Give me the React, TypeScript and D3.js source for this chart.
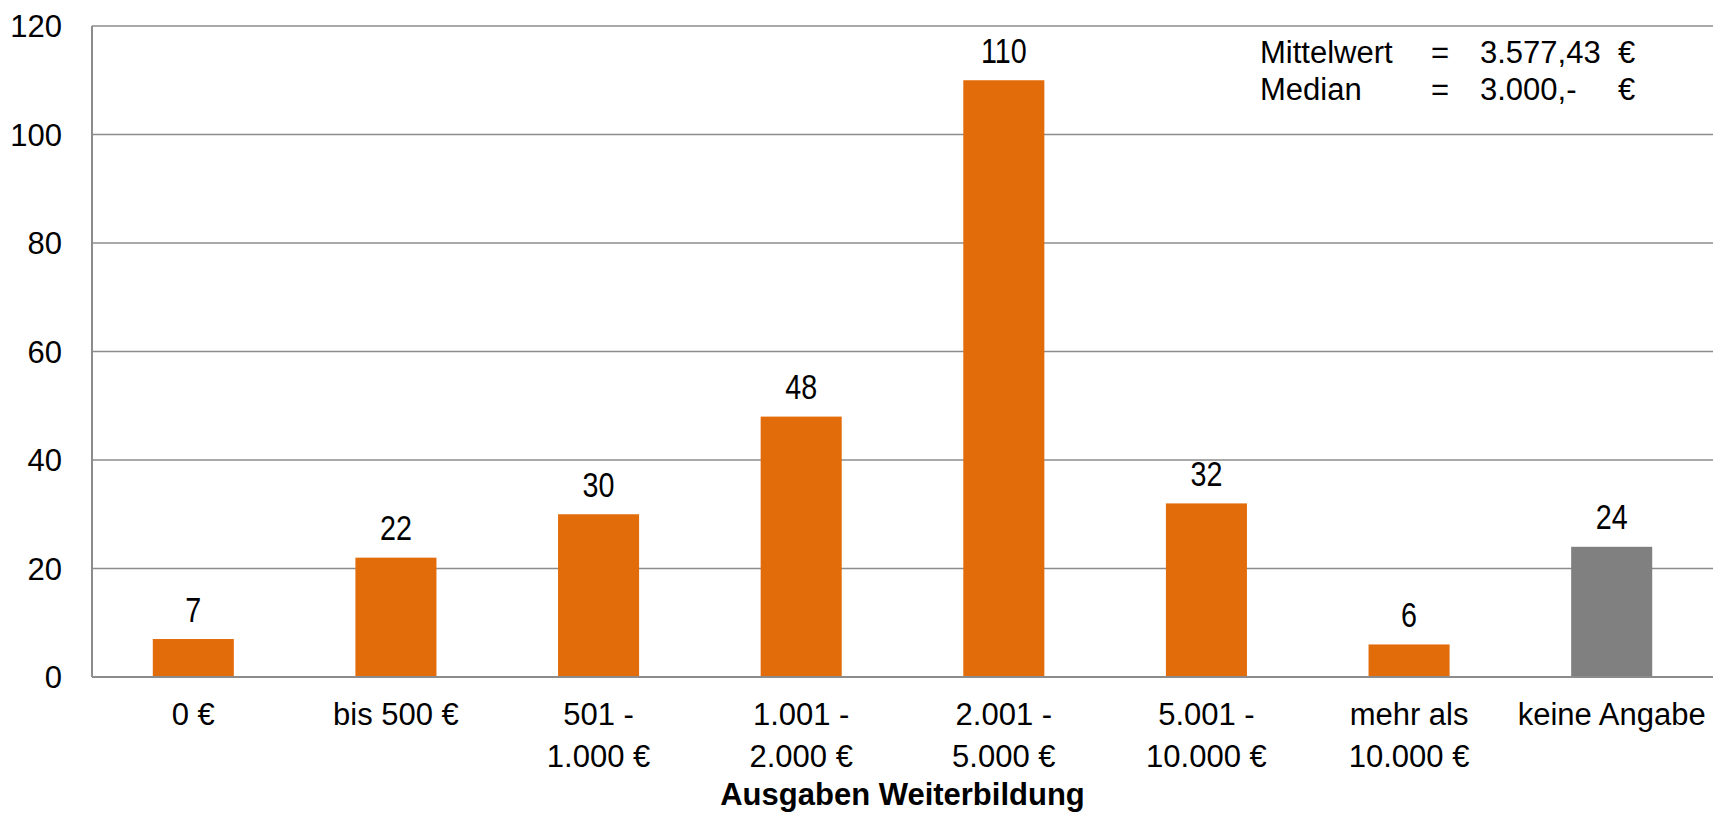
import React from 'react'
import * as d3 from 'd3'

// chart values
const categories = [
  ['0 €'],
  ['bis 500 €'],
  ['501 -', '1.000 €'],
  ['1.001 -', '2.000 €'],
  ['2.001 -', '5.000 €'],
  ['5.001 -', '10.000 €'],
  ['mehr als', '10.000 €'],
  ['keine Angabe']
]
const counts = [7, 22, 30, 48, 110, 32, 6, 24]
const barColors = ['#E36C0A', '#E36C0A', '#E36C0A', '#E36C0A', '#E36C0A', '#E36C0A', '#E36C0A', '#808080']
const yTicks = [0, 20, 40, 60, 80, 100, 120]
const statNames = ['Mittelwert', 'Median']
const statValues = ['3.577,43', '3.000,-']
const axisTitle = 'Ausgaben Weiterbildung'

const font = '"Liberation Sans", Arial, sans-serif'

const App = () => {
  const width = 1713
  const height = 813
  const margin = { top: 26, right: 0, bottom: 136, left: 92 }
  const plotRight = width - margin.right
  const plotBottom = height - margin.bottom

  const keys = categories.map((c, i) => String(i))

  //D3 mathy bits
  const x = d3
    .scaleBand()
    .domain(keys)
    .range([margin.left, plotRight])
    .paddingInner(0.6)
    .paddingOuter(0.3)
  const y = d3.scaleLinear().domain([0, 120]).range([plotBottom, margin.top])

  const gridStyle = { stroke: '#8c8c8c', strokeWidth: 1.5 }
  const axisStyle = { stroke: '#8c8c8c', strokeWidth: 2 }

  return (
    <svg
      width={width}
      height={height}
      style={{ position: 'absolute', left: 0, top: 0, background: '#fff' }}
    >
      {/* gridlines */}
      {yTicks.map((t) =>
        t === 0 ? null : (
          <line key={t} x1={margin.left} x2={plotRight} y1={y(t)} y2={y(t)} style={gridStyle} />
        )
      )}

      {/* y tick labels */}
      {yTicks.map((t) => (
        <text
          key={'l' + t}
          x={62}
          y={y(t)}
          dy="0.36em"
          textAnchor="end"
          fontFamily={font}
          fontSize={31}
          fill="#000"
        >
          {t}
        </text>
      ))}

      {/* bars */}
      {counts.map((v, i) => (
        <rect
          key={'b' + i}
          x={x(keys[i])}
          y={y(v)}
          width={x.bandwidth()}
          height={y(0) - y(v)}
          fill={barColors[i]}
        />
      ))}

      {/* value labels, narrow like the original */}
      {counts.map((v, i) => (
        <text
          key={'v' + i}
          transform={`translate(${x(keys[i]) + x.bandwidth() / 2},${y(v) - 30}) scale(0.82,1)`}
          dy="0.36em"
          textAnchor="middle"
          fontFamily={font}
          fontSize={35}
          fill="#000"
        >
          {v}
        </text>
      ))}

      {/* axes */}
      <line x1={margin.left} x2={margin.left} y1={margin.top} y2={plotBottom} style={axisStyle} />
      <line x1={margin.left} x2={plotRight} y1={plotBottom} y2={plotBottom} style={axisStyle} />

      {/* category labels */}
      {categories.map((lines, i) => (
        <text
          key={'c' + i}
          x={x(keys[i]) + x.bandwidth() / 2}
          y={724.5}
          textAnchor="middle"
          fontFamily={font}
          fontSize={31}
          fill="#000"
        >
          {lines.map((ln, j) => (
            <tspan key={j} x={x(keys[i]) + x.bandwidth() / 2} dy={j === 0 ? 0 : 42.5}>
              {ln}
            </tspan>
          ))}
        </text>
      ))}

      <text
        x={(margin.left + plotRight) / 2}
        y={805}
        textAnchor="middle"
        fontFamily={font}
        fontSize={31}
        fontWeight="bold"
        fill="#000"
      >
        {axisTitle}
      </text>

      {/* stats box */}
      {statNames.map((name, i) => (
        <g key={'s' + i} fontFamily={font} fontSize={31} fill="#000">
          <text x={1260} y={63 + i * 37}>{name}</text>
          <text x={1431} y={63 + i * 37}>=</text>
          <text x={1480} y={63 + i * 37}>{statValues[i]}</text>
          <text x={1618} y={63 + i * 37}>€</text>
        </g>
      ))}
    </svg>
  )
}

export default App
